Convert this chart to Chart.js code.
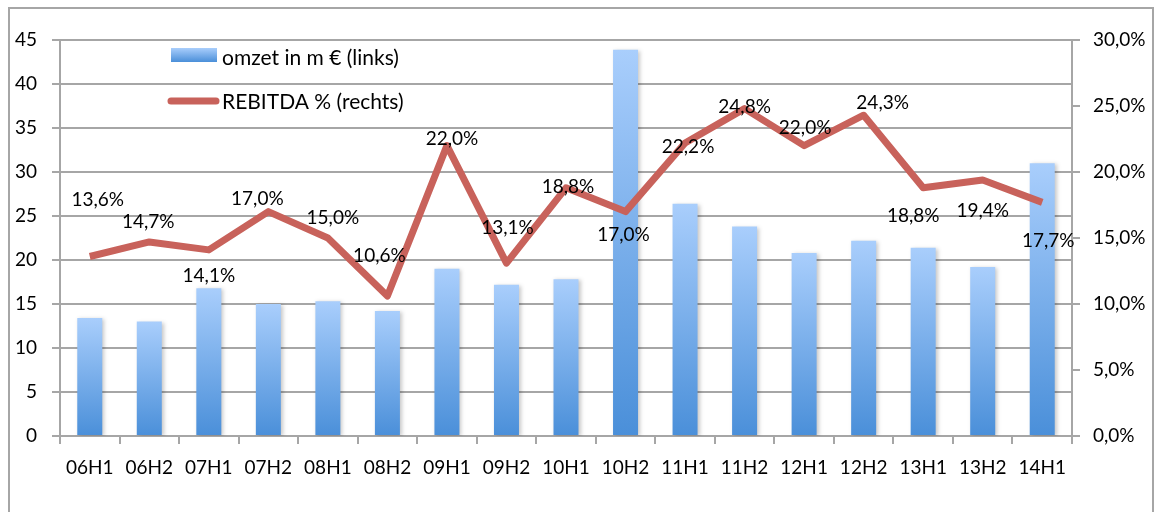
<!DOCTYPE html>
<html lang="nl">
<head>
<meta charset="UTF-8">
<title>Omzet en REBITDA</title>
<script src="https://cdn.jsdelivr.net/npm/chart.js"></script>
<style>
  html, body { margin: 0; padding: 0; background: #fff; }
  #wrap { width: 1158px; height: 512px; }
</style>
</head>
<body>
<div id="wrap"><canvas id="chart"></canvas></div>
<script>
const periods = ["06H1", "06H2", "07H1", "07H2", "08H1", "08H2", "09H1", "09H2", "10H1",
                 "10H2", "11H1", "11H2", "12H1", "12H2", "13H1", "13H2", "14H1"];
const omzet = [13.4, 13.0, 16.8, 15.0, 15.3, 14.2, 19.0, 17.2, 17.8,
               43.9, 26.4, 23.8, 20.8, 22.2, 21.4, 19.2, 31.0];
const rebitda = [13.6, 14.7, 14.1, 17.0, 15.0, 10.6, 22.0, 13.1, 18.8,
                 17.0, 22.2, 24.8, 22.0, 24.3, 18.8, 19.4, 17.7];

// where each percentage label sits, relative to its point (dx, dy)
const labelShift = [[8, -57], [-1, -20], [0, 26], [-11, -13], [5, -20], [-8, -40], [5, -7],
                    [1, -35], [2, -1], [-2, 23], [3, 4], [0, -2], [1, -18], [19, -12],
                    [-10, 28], [0, 31], [6, 39]];

const FONT = "Lato, 'Open Sans', sans-serif";
const GRID = "#a6a6a6";

const fmtPct = v => v.toFixed(1).replace(".", ",") + "%";

function barGradient(context) {
  const chart = context.chart;
  if (!chart.chartArea || context.parsed == null) return "#7fb2ec";
  const y = chart.scales.y;
  const top = y.getPixelForValue(context.parsed.y);
  const bottom = y.getPixelForValue(0);
  const g = chart.ctx.createLinearGradient(0, top, 0, bottom);
  g.addColorStop(0, "#a9cefc");
  g.addColorStop(1, "#4a8fd9");
  return g;
}

const framePlugin = {
  id: "frame",
  beforeDraw(chart) {
    const c = chart.ctx;
    c.save();
    c.strokeStyle = GRID;
    c.lineWidth = 2;
    c.strokeRect(9, 8, 1144, 520);
    c.restore();
  },
  // soft shadow under the bars, like the office chart
  beforeDatasetDraw(chart, args) {
    if (args.index !== 0) return;
    const c = chart.ctx;
    c.save();
    c.shadowColor = "rgba(0,0,0,0.22)";
    c.shadowBlur = 4;
    c.shadowOffsetX = 2;
    c.shadowOffsetY = 1;
  },
  afterDatasetDraw(chart, args) {
    if (args.index !== 0) return;
    chart.ctx.restore();
  }
};

const labelsPlugin = {
  id: "pctLabels",
  afterDatasetsDraw(chart) {
    const c = chart.ctx;
    const meta = chart.getDatasetMeta(1);
    c.save();
    c.font = "19px " + FONT;
    c.fillStyle = "#000";
    c.textAlign = "center";
    c.textBaseline = "middle";
    meta.data.forEach((pt, i) => {
      const s = labelShift[i];
      c.fillText(fmtPct(rebitda[i]), pt.x + s[0], pt.y + s[1]);
    });

    // legend inside the plot
    c.textAlign = "left";
    c.font = "21px " + FONT;
    const lg = c.createLinearGradient(0, 48, 0, 62);
    lg.addColorStop(0, "#a9cefc");
    lg.addColorStop(1, "#4a8fd9");
    c.fillStyle = lg;
    c.fillRect(171, 48, 46, 14);
    c.fillStyle = "#000";
    c.fillText("omzet in m \u20ac (links)", 222, 58);
    c.strokeStyle = "#c8625b";
    c.lineWidth = 7;
    c.lineCap = "round";
    c.beginPath();
    c.moveTo(171, 101);
    c.lineTo(216, 101);
    c.stroke();
    c.fillText("REBITDA % (rechts)", 222, 102);
    c.restore();
  }
};

new Chart(document.getElementById("chart"), {
  data: {
    labels: periods,
    datasets: [
      {
        type: "bar",
        label: "omzet in m \u20ac (links)",
        data: omzet,
        yAxisID: "y",
        backgroundColor: barGradient,
        borderWidth: 0,
        categoryPercentage: 1,
        barPercentage: 0.42,
        order: 2
      },
      {
        type: "line",
        label: "REBITDA % (rechts)",
        data: rebitda,
        yAxisID: "y1",
        borderColor: "#c8625b",
        borderWidth: 7,
        borderJoinStyle: "round",
        pointRadius: 0,
        tension: 0,
        order: 1
      }
    ]
  },
  options: {
    responsive: true,
    maintainAspectRatio: false,
    animation: false,
    layout: { padding: { top: 40 } },
    plugins: { legend: { display: false }, tooltip: { enabled: false } },
    scales: {
      x: {
        offset: true,
        grid: { display: true, drawOnChartArea: false, offset: true, tickLength: 8, color: GRID, lineWidth: 2 },
        border: { color: GRID, width: 2 },
        ticks: { color: "#000", font: { family: FONT, size: 19 }, padding: 12, maxRotation: 0 },
        afterFit(s) { s.height = 76; }
      },
      y: {
        position: "left",
        min: 0, max: 45,
        grid: { color: GRID, lineWidth: 2, tickLength: 8 },
        border: { color: GRID, width: 2 },
        ticks: { stepSize: 5, color: "#000", font: { family: FONT, size: 19 }, padding: 15 },
        afterFit(s) { s.width = 60; }
      },
      y1: {
        position: "right",
        min: 0, max: 30,
        grid: { drawOnChartArea: false, color: GRID, lineWidth: 2, tickLength: 8 },
        border: { color: GRID, width: 2 },
        ticks: { stepSize: 5, color: "#000", font: { family: FONT, size: 19 }, padding: 13,
                 callback: v => fmtPct(v) },
        afterFit(s) { s.width = 86; }
      }
    }
  },
  plugins: [framePlugin, labelsPlugin]
});
</script>
</body>
</html>
